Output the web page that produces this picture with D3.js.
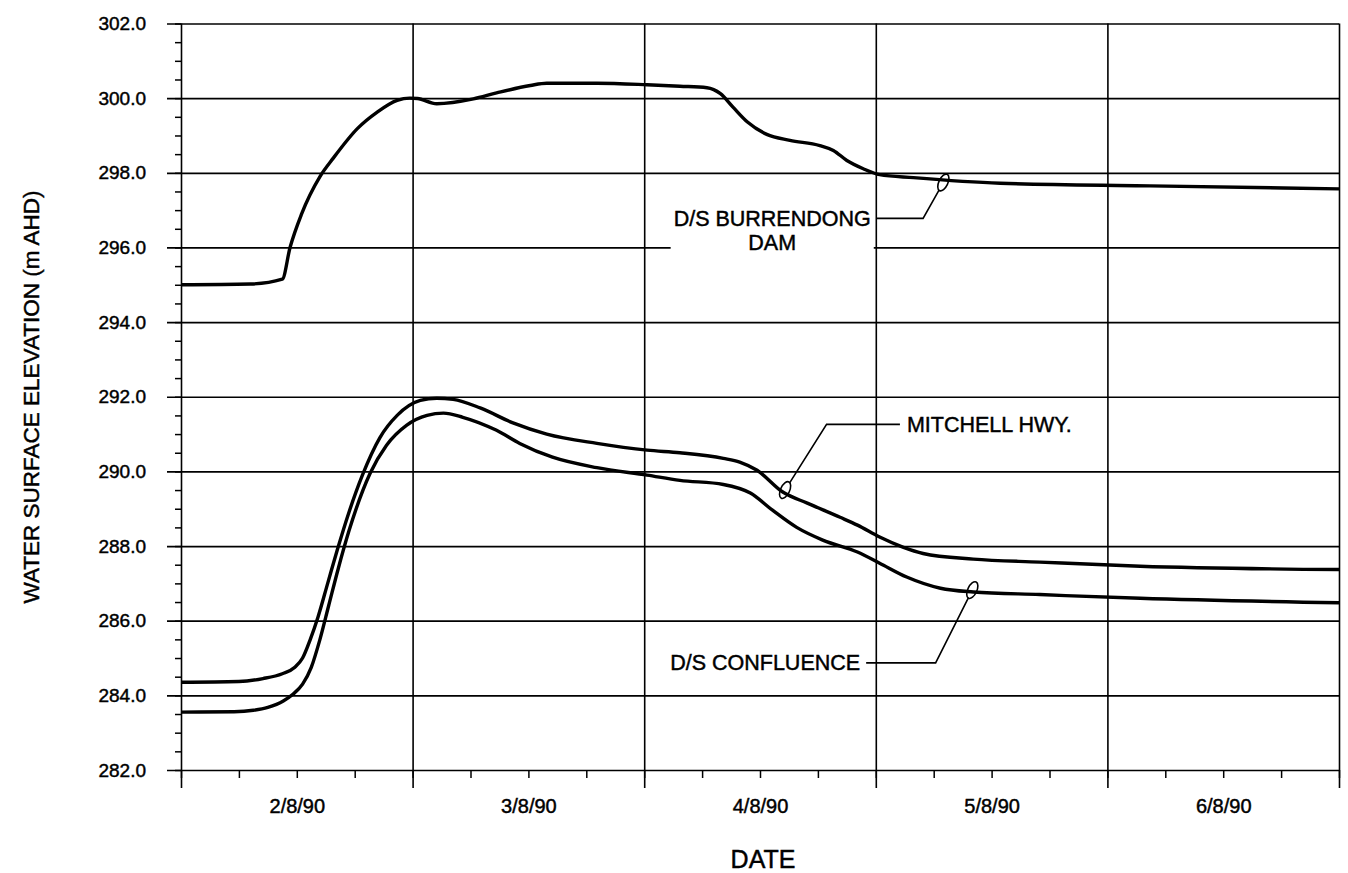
<!DOCTYPE html>
<html>
<head>
<meta charset="utf-8">
<script src="https://cdn.jsdelivr.net/npm/d3@7"></script>
<style>
  body { margin: 0; background: #fff; }
  text { font-family: "Liberation Sans", Arial, sans-serif; fill: #000; stroke: #000; stroke-width: 0.45px; }
</style>
</head>
<body>
<div id="chart"></div>
<script>
// hours since 00:00 2/8/90, water level in m AHD
const dayLabels = ['2/8/90', '3/8/90', '4/8/90', '5/8/90', '6/8/90'];
const yTicks = [282, 284, 286, 288, 290, 292, 294, 296, 298, 300, 302];

const burrendongHours = [0, 7.2, 10.5, 11.3, 12.5, 14.4, 15.8, 18.3, 20.3, 22.4, 23.7, 24.5, 26.5, 30.3, 32.7, 36.2, 37.9, 43.1, 48.3, 51.7, 54.5, 55.9, 57.2, 58.7, 60.7, 63.1, 66.2, 67.6, 69.0, 70.7, 72.4, 75.9, 84.9, 100.4, 120];
const burrendongLevel = [295.0, 295.02, 295.15, 296.0, 296.9, 297.9, 298.4, 299.19, 299.62, 299.94, 300.0, 299.99, 299.85, 299.98, 300.14, 300.34, 300.4, 300.4, 300.36, 300.32, 300.28, 300.12, 299.76, 299.36, 299.03, 298.87, 298.73, 298.6, 298.33, 298.11, 297.95, 297.87, 297.72, 297.65, 297.57];

const mitchellHours = [0, 6.0, 8.5, 10.5, 11.8, 12.6, 13.4, 14.2, 15.2, 16.2, 17.4, 18.8, 20.6, 22.4, 24.8, 26.5, 28.2, 31.0, 34.4, 37.9, 43.1, 48.3, 51.7, 56.2, 57.9, 59.7, 62.4, 64.9, 68.3, 70.1, 72.4, 74.8, 76.9, 82.1, 89.0, 99.4, 120];
const mitchellLevel = [284.35, 284.37, 284.45, 284.58, 284.75, 285.0, 285.5, 286.1, 287.0, 287.9, 288.9, 289.9, 290.9, 291.5, 291.9, 291.96, 291.93, 291.7, 291.3, 291.0, 290.75, 290.57, 290.5, 290.35, 290.25, 290.03, 289.44, 289.15, 288.77, 288.56, 288.24, 287.97, 287.8, 287.65, 287.57, 287.46, 287.37];

const confluenceHours = [0, 5.5, 7.5, 9.0, 10.6, 11.6, 12.6, 13.5, 14.4, 15.3, 16.3, 17.4, 19.6, 21.3, 23.4, 25.5, 27.2, 29.2, 32.7, 35.1, 38.5, 43.1, 48.3, 51.7, 56.2, 59.0, 61.3, 63.8, 66.5, 70.1, 72.4, 75.2, 78.7, 82.1, 89.0, 99.4, 120];
const confluenceLevel = [283.55, 283.56, 283.6, 283.68, 283.85, 284.03, 284.3, 284.75, 285.5, 286.4, 287.4, 288.4, 289.95, 290.7, 291.24, 291.5, 291.56, 291.45, 291.1, 290.75, 290.38, 290.1, 289.9, 289.76, 289.65, 289.42, 288.96, 288.5, 288.16, 287.84, 287.54, 287.17, 286.87, 286.77, 286.7, 286.6, 286.48];

// callouts: ellipse on curve, elbow of leader, end of leader (hours, level)
const calloutText = [['D/S BURRENDONG', 'DAM'], ['MITCHELL HWY.'], ['D/S CONFLUENCE']];
const calloutTip = [[79.0, 297.74], [62.6, 289.5], [82.0, 286.82]];
const calloutElbow = [[76.9, 296.78], [66.9, 291.26], [78.2, 284.87]];
const calloutEnd = [[72.1, 296.78], [74.5, 291.26], [71.0, 284.87]];
const calloutSide = ['left', 'right', 'left'];

const width = 1348, height = 873;
const margin = {top: 23.5, right: 9, bottom: 103, left: 181};
const plotWidth = width - margin.left - margin.right;
const plotHeight = height - margin.top - margin.bottom;

const svg = d3.select('#chart').append('svg')
  .attr('width', width).attr('height', height);
const g = svg.append('g')
  .attr('transform', 'translate(' + margin.left + ',' + margin.top + ')');

const x = d3.scaleLinear().domain([0, 120]).range([0, plotWidth]);
const y = d3.scaleLinear().domain([282, 302]).range([plotHeight, 0]);

// horizontal grid + y labels (grid pokes out 14px left of the axis)
g.append('g')
  .attr('transform', 'translate(-14,0)')
  .call(d3.axisLeft(y).tickValues(yTicks).tickSizeInner(-(plotWidth + 14)).tickSizeOuter(0)
    .tickPadding(21).tickFormat(d3.format('.1f')))
  .call(a => a.select('.domain').remove())
  .call(a => a.selectAll('line').attr('stroke', '#000').attr('stroke-width', 1.7))
  .call(a => a.selectAll('text').attr('font-size', 19).attr('font-family', null));

// y minor ticks
g.append('g')
  .call(d3.axisLeft(y).tickValues(d3.range(282, 302.01, 0.5)).tickSize(6).tickFormat(''))
  .call(a => a.select('.domain').remove())
  .call(a => a.selectAll('line').attr('stroke', '#000').attr('stroke-width', 1.5));

// vertical grid at each day (extends 18px under the axis)
g.append('g')
  .attr('transform', 'translate(0,' + (plotHeight + 18) + ')')
  .call(d3.axisBottom(x).tickValues(d3.range(0, 121, 24)).tickSizeInner(-(plotHeight + 18)).tickSizeOuter(0).tickFormat(''))
  .call(a => a.select('.domain').remove())
  .call(a => a.selectAll('line').attr('stroke', '#000').attr('stroke-width', 1.6));

// x minor ticks every 6 h, date label at midday
g.append('g')
  .attr('transform', 'translate(0,' + plotHeight + ')')
  .call(d3.axisBottom(x).tickValues(d3.range(0, 121, 6)).tickSize(8).tickPadding(21)
    .tickFormat(d => d % 24 === 12 ? dayLabels[Math.floor(d / 24)] : ''))
  .call(a => a.select('.domain').remove())
  .call(a => a.selectAll('line').attr('stroke', '#000').attr('stroke-width', 1.5))
  .call(a => a.selectAll('text').attr('font-size', 20).attr('font-family', null));

// axis titles
svg.append('text')
  .attr('transform', 'translate(31,397) rotate(-90)')
  .attr('text-anchor', 'middle').attr('dy', '0.35em')
  .attr('font-size', 22.5)
  .text('WATER SURFACE ELEVATION (m AHD)');
svg.append('text')
  .attr('x', 763).attr('y', 868)
  .attr('text-anchor', 'middle')
  .attr('font-size', 25)
  .text('DATE');

// series
const line = d3.line().x(d => x(d[0])).y(d => y(d[1])).curve(d3.curveMonotoneX);
const series = [
  d3.zip(burrendongHours, burrendongLevel),
  d3.zip(mitchellHours, mitchellLevel),
  d3.zip(confluenceHours, confluenceLevel)
];
g.selectAll('path.series')
  .data(series)
  .enter()
  .append('path')
  .attr('class', 'series')
  .attr('fill', 'none')
  .attr('stroke', '#000')
  .attr('stroke-width', 3.4)
  .attr('stroke-linejoin', 'round')
  .attr('d', line);

// callouts
calloutText.forEach((lines, i) => {
  const cg = g.append('g');
  const tx = x(calloutTip[i][0]), ty = y(calloutTip[i][1]);
  const ex = x(calloutElbow[i][0]), ey = y(calloutElbow[i][1]);
  const nx = x(calloutEnd[i][0]), ny = y(calloutEnd[i][1]);

  const label = cg.append('g');
  const txt = label.selectAll('text').data(lines).enter().append('text')
    .attr('font-size', 21.5)
    .attr('text-anchor', 'middle')
    .attr('dy', (d, j) => (0.35 + j * 1.1) + 'em')
    .text(d => d);
  const w = d3.max(txt.nodes(), n => n.getComputedTextLength());
  const cx = calloutSide[i] === 'left' ? nx - 6 - w / 2 : nx + 7 + w / 2;
  txt.attr('x', cx).attr('y', ny);
  const bb = label.node().getBBox();
  label.insert('rect', 'text')
    .attr('x', bb.x - 3).attr('y', bb.y - 2)
    .attr('width', bb.width + 6).attr('height', bb.height + 4)
    .attr('fill', '#fff');

  // leader starts at ellipse edge
  const dx = ex - tx, dy = ey - ty, len = Math.hypot(dx, dy);
  cg.append('path')
    .attr('fill', 'none').attr('stroke', '#000').attr('stroke-width', 1.6)
    .attr('d', d3.line()([[tx + dx / len * 8.5, ty + dy / len * 8.5], [ex, ey], [nx, ny]]));
  cg.append('ellipse')
    .attr('transform', 'translate(' + tx + ',' + ty + ') rotate(25)')
    .attr('rx', 4.5).attr('ry', 9)
    .attr('fill', 'none').attr('stroke', '#000').attr('stroke-width', 1.6);
});
</script>
</body>
</html>
